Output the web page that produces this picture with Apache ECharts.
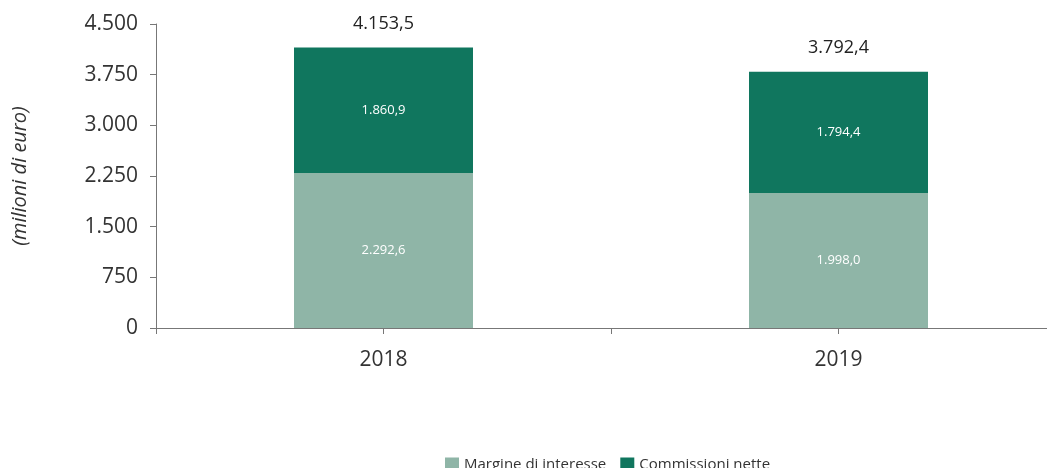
<!DOCTYPE html>
<html>
<head>
<meta charset="utf-8">
<script src="https://cdn.jsdelivr.net/npm/echarts@6/dist/echarts.min.js"></script>
<style>
  html, body { margin: 0; padding: 0; background: #fff; overflow: hidden; }
  /* l'asse x prosegue oltre il bordo destro, come nell'originale */
  #chart { width: 1066px; height: 468px; }
</style>
</head>
<body>
<div id="chart"></div>
<script>
// dati del grafico (milioni di euro)
const anni = ['2018', '2019'];
const margine = [2292.6, 1998.0];
const commissioni = [1860.9, 1794.4];
const yTicks = [0, 750, 1500, 2250, 3000, 3750, 4500];

const FONT = '"Open Sans", "DejaVu Sans", sans-serif';

// formato italiano: punto per le migliaia, virgola per i decimali
const fmtIt = (v, dec) => {
    let parts = v.toFixed(dec).split('.');
    parts[0] = parts[0].replace(/\B(?=(\d{3})+(?!\d))/g, '.');
    return parts.join(',');
};

let myChart = echarts.init(document.getElementById('chart'));
myChart.setOption({
    animation: false,
    grid: { left: 156, right: 0, top: 24, bottom: 140 },
    legend: {
        data: ['Margine di interesse', 'Commissioni nette'],
        left: 440,
        top: 452,
        itemWidth: 14,
        itemHeight: 14,
        itemGap: 14,
        icon: 'rect',
        textStyle: { fontFamily: FONT, fontSize: 15, color: '#333' }
    },
    xAxis: [{
        type: 'category',
        data: anni,
        axisLine: { lineStyle: { color: '#777', width: 1 } },
        axisTick: { show: true, length: 6, lineStyle: { color: '#777' } },
        axisLabel: { fontFamily: FONT, fontSize: 21, color: '#333', margin: 22 }
    }, {
        type: 'category',
        data: anni,
        position: 'bottom',
        axisLine: { show: false },
        axisTick: { show: true, alignWithLabel: true, length: 6, lineStyle: { color: '#777' } },
        axisLabel: { show: false }
    }],
    yAxis: {
        type: 'value',
        min: yTicks[0],
        max: yTicks[yTicks.length - 1],
        interval: 750,
        name: '(milioni di euro)',
        nameLocation: 'middle',
        nameGap: 126,
        nameRotate: 90,
        nameTextStyle: { fontFamily: FONT, fontSize: 20, fontStyle: 'italic', color: '#333' },
        axisLine: { show: true, lineStyle: { color: '#777', width: 1 } },
        axisTick: { show: true, length: 6, lineStyle: { color: '#777' } },
        splitLine: { show: false },
        axisLabel: {
            fontFamily: FONT, fontSize: 21, color: '#333', margin: 18,
            formatter: v => fmtIt(v, 0)
        }
    },
    series: [{
        name: 'Margine di interesse',
        type: 'bar',
        stack: 'tot',
        barWidth: 179,
        data: margine,
        itemStyle: { color: '#8fb5a7' },
        label: {
            show: true, position: 'inside', color: '#fff',
            fontFamily: FONT, fontSize: 13,
            formatter: p => fmtIt(p.value, 1)
        }
    }, {
        name: 'Commissioni nette',
        type: 'bar',
        stack: 'tot',
        barWidth: 179,
        data: commissioni,
        itemStyle: { color: '#10765e' },
        label: {
            show: true, position: 'inside', color: '#fff',
            fontFamily: FONT, fontSize: 13,
            formatter: p => fmtIt(p.value, 1)
        }
    }, {
        name: 'Totale',
        type: 'bar',
        stack: 'tot',
        barWidth: 179,
        data: anni.map(() => 0),
        itemStyle: { color: 'transparent' },
        label: {
            show: true, position: 'top', distance: 15, color: '#222',
            fontFamily: FONT, fontSize: 18,
            formatter: p => fmtIt(margine[p.dataIndex] + commissioni[p.dataIndex], 1)
        }
    }]
});
</script>
</body>
</html>
